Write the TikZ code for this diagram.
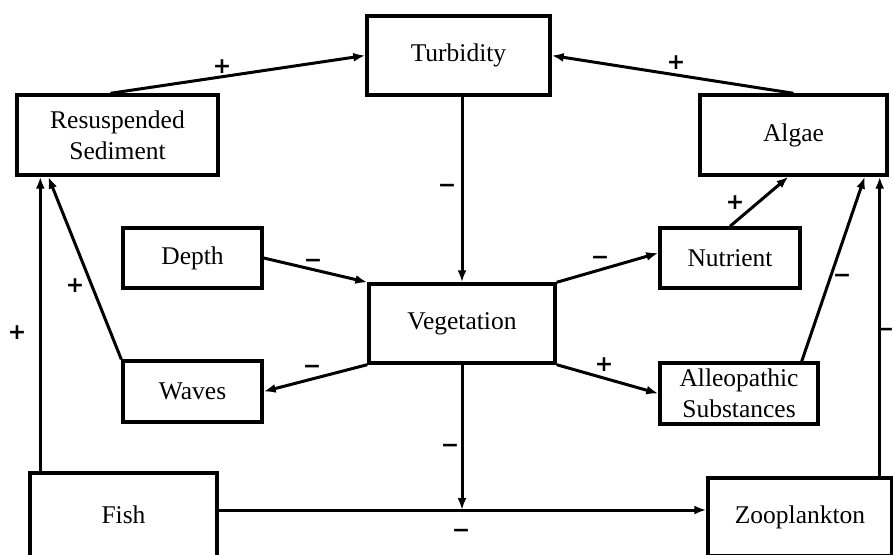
\documentclass[tikz,border=0pt]{standalone}
\usepackage{fontspec}
\setmainfont{Liberation Serif}
\newfontfamily\signfont{DejaVu Sans Bold}
\usetikzlibrary{arrows.meta,calc}
\tikzset{
  box/.style={draw, line width=3.4pt, inner sep=0pt, align=center,
    font=\fontsize{25.5}{31}\selectfont},
  link/.style={line width=3pt, -{Latex[length=12pt,width=9pt]}},
  sign/.style={inner sep=0pt, font=\signfont\fontsize{22}{22}\selectfont},
}
\begin{document}
\begin{tikzpicture}[x=1pt,y=-1pt]
\useasboundingbox (0,0) rectangle (893,554);
\clip (0,0) rectangle (893,554);
% boxes
\node[box, minimum width=183pt, minimum height=79pt] (turb) at (458.5,55.5) {Turbidity};
\node[box, minimum width=201pt, minimum height=80pt] (resusp) at (117.5,135) {Resuspended\\Sediment};
\node[box, minimum width=187pt, minimum height=80pt] (algae) at (793.5,135) {Algae};
\node[box, minimum width=139pt, minimum height=60pt] (depth) at (192.5,258) {Depth};
\node[box, minimum width=140pt, minimum height=60pt] (nutrient) at (730,258) {Nutrient};
\node[box, minimum width=186pt, minimum height=79pt] (veg) at (462,323.5) {Vegetation};
\node[box, minimum width=139pt, minimum height=61pt] (waves) at (192.5,391.5) {Waves};
\node[box, minimum width=158pt, minimum height=61pt] (alleo) at (739,393.5) {Alleopathic\\Substances};
\node[box, minimum width=187pt, minimum height=84pt] (fish) at (123.5,515) {Fish};
\node[box, minimum width=184pt, minimum height=78pt] (zoo) at (800,517) {Zooplankton};
% helper coordinates
\coordinate (fishtop) at ([xshift=12pt]fish.north west);
\coordinate (zootop) at ([xshift=-14pt]zoo.north east);
\coordinate (lineY) at (0,510);
% connectors
\draw[link] ([xshift=-7pt]resusp.north) -- (turb.west);
\draw[link] (algae.north) -- (turb.east);
\draw[link] (veg.north |- turb.south) -- (veg.north);
\draw[link] (depth.east) -- (veg.north west);
\draw[link] (veg.north east) -- ([yshift=5pt]nutrient.west);
\draw[link] (nutrient.north) -- ([xshift=-5pt]algae.south);
\draw[link] (veg.south west) -- (waves.east);
\draw[link] (waves.north west) -- ([xshift=33pt]resusp.south west);
\draw[link] (fishtop) -- (fishtop |- resusp.south);
\draw[link] (veg.south east) -- (alleo.west);
\draw[link] ([xshift=-18pt]alleo.north east) -- ([xshift=-24pt]algae.south east);
\draw[link] (zootop) -- (zootop |- algae.south);
\draw[link] (veg.south) -- (veg.south |- lineY);
\draw[link] (fish.east |- lineY) -- (zoo.west |- lineY);
% signs
\node[sign] (s1) at (222,67) {+};
\node[sign] (s2) at (676,63) {+};
\node[sign] (s3) at (447,188) {−};
\node[sign] (s4) at (313,263) {−};
\node[sign] (s5) at (600,260) {−};
\node[sign] (s6) at (735,203) {+};
\node[sign] (s7) at (75,286) {+};
\node[sign] (s8) at (17,333) {+};
\node[sign] (s9) at (312,369) {−};
\node[sign] (s10) at (604,365) {+};
\node[sign] (s11) at (842,278) {−};
\node[sign] (s12) at (885,332) {−};
\node[sign] (s13) at (450,448) {−};
\node[sign] (s14) at (461,533) {−};
\end{tikzpicture}
\end{document}
